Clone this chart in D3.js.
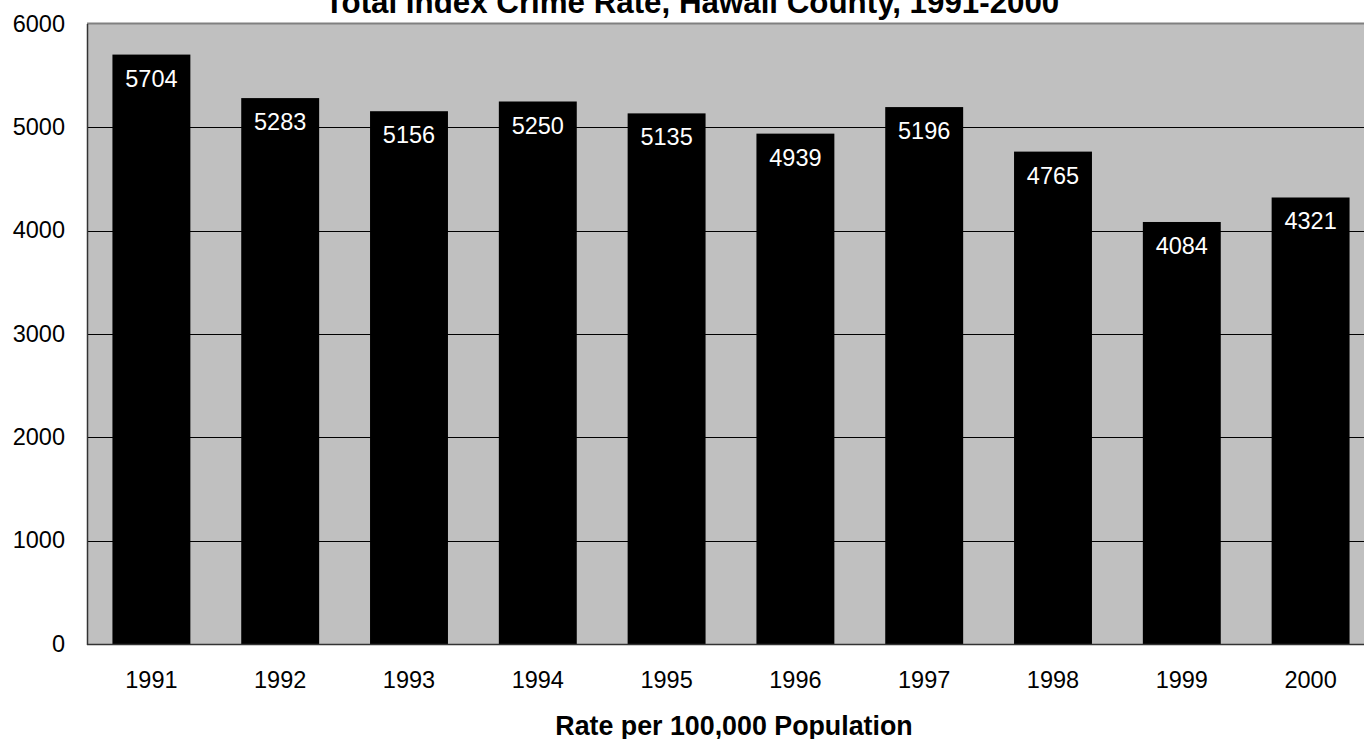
<!DOCTYPE html>
<meta charset="utf-8">
<script src="https://d3js.org/d3.v7.min.js"></script>
<style>
  body { margin: 0; background: #fff; }
  text { font-family: "Liberation Sans", Arial, sans-serif; }
</style>
<body>
<svg id="vis" width="1364" height="739"></svg>
<script>
// data
var years = ["1991", "1992", "1993", "1994", "1995", "1996", "1997", "1998", "1999", "2000"];
var rates = [5704, 5283, 5156, 5250, 5135, 4939, 5196, 4765, 4084, 4321];
var yTicks = [0, 1000, 2000, 3000, 4000, 5000, 6000];

var chartTitle = "Total Index Crime Rate, Hawaii County, 1991-2000";
var axisTitle = "Rate per 100,000 Population";

var data = years.map(function(y, i) { return {year: y, rate: rates[i]}; });

// plot area (runs a little past the right edge of the window, as in the original)
var plotLeft = 87, plotRight = 1375, plotTop = 24, plotBottom = 644;

var svg = d3.select("#vis");

var x = d3.scaleBand()
  .domain(years)
  .range([plotLeft, plotRight])
  .paddingInner(0.395)
  .paddingOuter(0.1975);

var y = d3.scaleLinear()
  .domain([0, 6000])
  .range([plotBottom, plotTop]);

// grey background
svg.append("rect")
  .attr("x", plotLeft)
  .attr("y", plotTop)
  .attr("width", plotRight - plotLeft)
  .attr("height", plotBottom - plotTop)
  .attr("fill", "#c0c0c0");

// gridlines
svg.append("g")
  .selectAll("line")
  .data(yTicks.filter(function(d) { return d > 0 && d < 6000; }))
  .enter()
  .append("line")
    .attr("x1", plotLeft)
    .attr("x2", plotRight)
    .attr("y1", function(d) { return Math.round(y(d)) + 0.5; })
    .attr("y2", function(d) { return Math.round(y(d)) + 0.5; })
    .attr("stroke", "#000")
    .attr("stroke-width", 1);

// top border of plot area
svg.append("line")
  .attr("x1", plotLeft).attr("x2", plotRight)
  .attr("y1", plotTop - 0.5).attr("y2", plotTop - 0.5)
  .attr("stroke", "#808080")
  .attr("stroke-width", 2);

// bars
svg.append("g")
  .selectAll("rect")
  .data(data)
  .enter()
  .append("rect")
    .attr("x", function(d) { return x(d.year); })
    .attr("y", function(d) { return y(d.rate); })
    .attr("width", x.bandwidth())
    .attr("height", function(d) { return y(0) - y(d.rate); })
    .attr("fill", "#000");

// value labels inside bars
svg.append("g")
  .selectAll("text")
  .data(data)
  .enter()
  .append("text")
    .attr("x", function(d) { return x(d.year) + x.bandwidth() / 2; })
    .attr("y", function(d) { return y(d.rate) + 32; })
    .attr("text-anchor", "middle")
    .attr("font-size", "23.5px")
    .attr("fill", "#fff")
    .text(function(d) { return d.rate; });

// axes lines
svg.append("line")
  .attr("x1", plotLeft + 0.5).attr("x2", plotLeft + 0.5)
  .attr("y1", plotTop).attr("y2", plotBottom + 1)
  .attr("stroke", "#333").attr("stroke-width", 1.5);
svg.append("line")
  .attr("x1", plotLeft).attr("x2", plotRight)
  .attr("y1", plotBottom + 0.5).attr("y2", plotBottom + 0.5)
  .attr("stroke", "#333").attr("stroke-width", 1.5);

// y tick labels
svg.append("g")
  .selectAll("text")
  .data(yTicks)
  .enter()
  .append("text")
    .attr("x", 65)
    .attr("y", function(d) { return y(d) + 7.5; })
    .attr("text-anchor", "end")
    .attr("font-size", "23.5px")
    .attr("fill", "#000")
    .text(function(d) { return d; });

// x tick labels
svg.append("g")
  .selectAll("text")
  .data(years)
  .enter()
  .append("text")
    .attr("x", function(d) { return x(d) + x.bandwidth() / 2; })
    .attr("y", plotBottom + 44)
    .attr("text-anchor", "middle")
    .attr("font-size", "23.5px")
    .attr("fill", "#000")
    .text(function(d) { return d; });

// titles
svg.append("text")
  .attr("x", 692)
  .attr("y", 12.5)
  .attr("text-anchor", "middle")
  .attr("font-size", "31.3px")
  .attr("font-weight", "bold")
  .text(chartTitle);

svg.append("text")
  .attr("x", 734)
  .attr("y", 735)
  .attr("text-anchor", "middle")
  .attr("font-size", "26.8px")
  .attr("font-weight", "bold")
  .text(axisTitle);
</script>
</body>
